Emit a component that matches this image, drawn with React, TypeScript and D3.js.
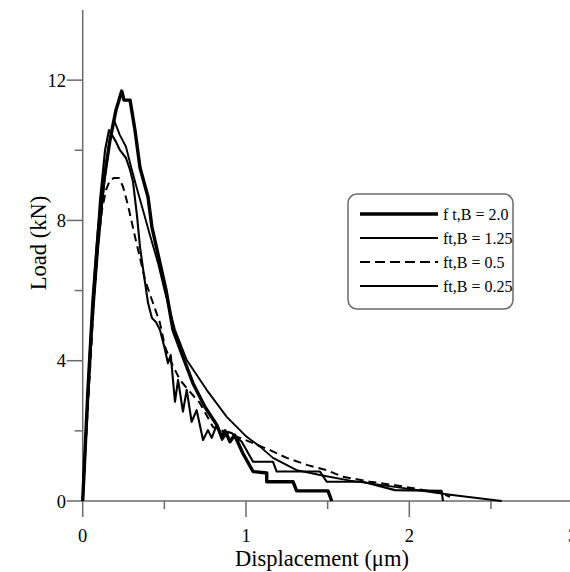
import React from "react";
import * as d3 from "d3";

type P = [number, number];

const seriesNames = ["f t,B = 2.0", "ft,B = 1.25", "ft,B = 0.5", "ft,B = 0.25"];

const ftB20: P[] = [
  [0, 0], [0.032, 3.17], [0.063, 5.73], [0.094, 7.58], [0.13, 9.15], [0.167, 10.29], [0.204, 11.15],
  [0.239, 11.69], [0.253, 11.43], [0.29, 11.43], [0.32, 10.58], [0.351, 9.5], [0.4, 8.67], [0.424, 7.81],
  [0.473, 6.79], [0.51, 6.02], [0.553, 4.88], [0.614, 4.11], [0.675, 3.36], [0.749, 2.68], [0.821, 2.17],
  [0.851, 1.83], [0.872, 2.0], [0.902, 1.69], [0.93, 1.88], [0.98, 1.37], [1.043, 0.84], [1.127, 0.8],
  [1.127, 0.55], [1.288, 0.55], [1.31, 0.29], [1.502, 0.29], [1.525, 0],
];

const ftB125: P[] = [
  [0, 0], [0.026, 2.31], [0.057, 4.88], [0.094, 7.16], [0.13, 9.01], [0.161, 10.15], [0.192, 10.86],
  [0.227, 10.44], [0.265, 10.1], [0.29, 9.64], [0.326, 9.01], [0.369, 8.3], [0.412, 7.58], [0.461, 6.79],
  [0.504, 5.96], [0.565, 4.88], [0.637, 4.02], [0.759, 3.17], [0.882, 2.4], [1.004, 1.83], [1.086, 1.55],
  [1.165, 1.23], [1.31, 0.88], [1.453, 0.74], [1.637, 0.58], [1.943, 0.38], [2.25, 0.18], [2.566, 0],
];

const ftB05: P[] = [
  [0, 0], [0.02, 1.74], [0.045, 3.74], [0.069, 5.73], [0.094, 7.3], [0.118, 8.3], [0.143, 8.87],
  [0.167, 9.15], [0.192, 9.21], [0.222, 9.21], [0.247, 8.96], [0.277, 8.44], [0.32, 7.54], [0.351, 6.93],
  [0.382, 6.3], [0.424, 5.73], [0.473, 5.08], [0.504, 4.4], [0.535, 4.02], [0.596, 3.45], [0.657, 3.11],
  [0.718, 2.79], [0.798, 2.11], [0.872, 1.97], [0.963, 1.8], [1.043, 1.65], [1.147, 1.45], [1.249, 1.23],
  [1.372, 1.03], [1.494, 0.88], [1.594, 0.69], [1.759, 0.55], [1.943, 0.43], [2.188, 0.23], [2.249, 0.12],
];

const ftB025: P[] = [
  [0, 0], [0.02, 2.02], [0.045, 4.31], [0.075, 6.59], [0.106, 8.58], [0.137, 10.01], [0.161, 10.58],
  [0.179, 10.44], [0.204, 10.24], [0.227, 10.01], [0.265, 9.78], [0.29, 9.44], [0.308, 9.1], [0.332, 8.16],
  [0.351, 7.24], [0.375, 6.44], [0.4, 5.65], [0.424, 5.22], [0.449, 5.1], [0.473, 4.88], [0.504, 4.31],
  [0.522, 3.93], [0.539, 4.16], [0.565, 2.83], [0.584, 3.45], [0.614, 2.55], [0.637, 3.17], [0.667, 2.26],
  [0.698, 2.59], [0.737, 1.74], [0.767, 2.02], [0.79, 1.8], [0.821, 2.17], [0.853, 1.74], [0.89, 1.97],
  [0.912, 1.94], [0.974, 1.69], [1.043, 1.12], [1.165, 1.12], [1.188, 0.84], [1.453, 0.84], [1.494, 0.55],
  [1.716, 0.55], [1.912, 0.31], [2.198, 0.29], [2.206, 0],
];

const xMajorTicks = [0, 1, 2, 3];
const xMinorTicks = [0.5, 1.5, 2.5];
const yMajorTicks = [0, 4, 8, 12];
const yMinorTicks = [2, 6, 10];

const W = 570;
const H = 572;
const FONT = "'Liberation Serif', 'Times New Roman', serif";
const AXIS = "#6a6a6a";

export default function App() {
  const x = d3.scaleLinear().domain([0, 3]).range([82.7, 572.6]);
  const y = d3.scaleLinear().domain([0, 14]).range([501, 10]);
  const line = d3
    .line<P>()
    .x((d) => x(d[0]))
    .y((d) => y(d[1]));

  const series = [
    { name: seriesNames[0], data: ftB20, width: 3.4, dash: undefined as string | undefined },
    { name: seriesNames[1], data: ftB125, width: 1.9, dash: undefined },
    { name: seriesNames[2], data: ftB05, width: 2.0, dash: "8 5" },
    { name: seriesNames[3], data: ftB025, width: 2.1, dash: undefined },
  ];

  const x0 = x(0);
  const y0 = y(0);
  const legendRows = [214, 238, 262, 286];

  return (
    <div style={{ position: "absolute", left: 0, top: 0 }}>
      <svg width={W} height={H} style={{ display: "block", background: "#fff" }}>
        {/* axes */}
        <line x1={x0} x2={x(3)} y1={y0} y2={y0} stroke={AXIS} strokeWidth={1.5} />
        <line x1={x0} x2={x0} y1={y(14)} y2={y0} stroke={AXIS} strokeWidth={1.5} />
        {xMajorTicks.map((t) => (
          <line key={"xM" + t} x1={x(t)} x2={x(t)} y1={y0} y2={y0 + 16} stroke={AXIS} strokeWidth={1.5} />
        ))}
        {xMinorTicks.map((t) => (
          <line key={"xm" + t} x1={x(t)} x2={x(t)} y1={y0} y2={y0 + 8} stroke={AXIS} strokeWidth={1.5} />
        ))}
        {yMajorTicks.map((t) => (
          <line key={"yM" + t} x1={x0 - 16} x2={x0} y1={y(t)} y2={y(t)} stroke={AXIS} strokeWidth={1.5} />
        ))}
        {yMinorTicks.map((t) => (
          <line key={"ym" + t} x1={x0 - 8} x2={x0} y1={y(t)} y2={y(t)} stroke={AXIS} strokeWidth={1.5} />
        ))}
        {xMajorTicks.map((t) => (
          <text key={"xl" + t} x={x(t)} y={542} textAnchor="middle" fontFamily={FONT} fontSize={18.5} fill="#000">
            {t}
          </text>
        ))}
        {yMajorTicks.map((t) => (
          <text key={"yl" + t} x={66} y={y(t) + 6.5} textAnchor="end" fontFamily={FONT} fontSize={18.5} fill="#000">
            {t}
          </text>
        ))}
        <text x={322} y={566} textAnchor="middle" fontFamily={FONT} fontSize={22.5} fill="#000">
          Displacement (μm)
        </text>
        <text
          transform={`translate(46,243) rotate(-90)`}
          textAnchor="middle"
          fontFamily={FONT}
          fontSize={22.5}
          fill="#000"
        >
          Load (kN)
        </text>

        {/* curves */}
        {series.map((s) => (
          <path
            key={s.name}
            d={line(s.data) || ""}
            fill="none"
            stroke="#000"
            strokeWidth={s.width}
            strokeDasharray={s.dash}
            strokeLinejoin="round"
          />
        ))}

        {/* legend */}
        <rect x={348} y={194} width={165} height={115} rx={9} ry={9} fill="#fff" stroke={AXIS} strokeWidth={1.5} />
        {series.map((s, i) => (
          <g key={"lg" + i}>
            <line
              x1={360}
              x2={438}
              y1={legendRows[i]}
              y2={legendRows[i]}
              stroke="#000"
              strokeWidth={s.width}
              strokeDasharray={s.dash ? "10 5" : undefined}
            />
            <text x={443} y={legendRows[i] + 6} fontFamily={FONT} fontSize={16} fill="#000">
              {s.name}
            </text>
          </g>
        ))}
      </svg>
    </div>
  );
}
